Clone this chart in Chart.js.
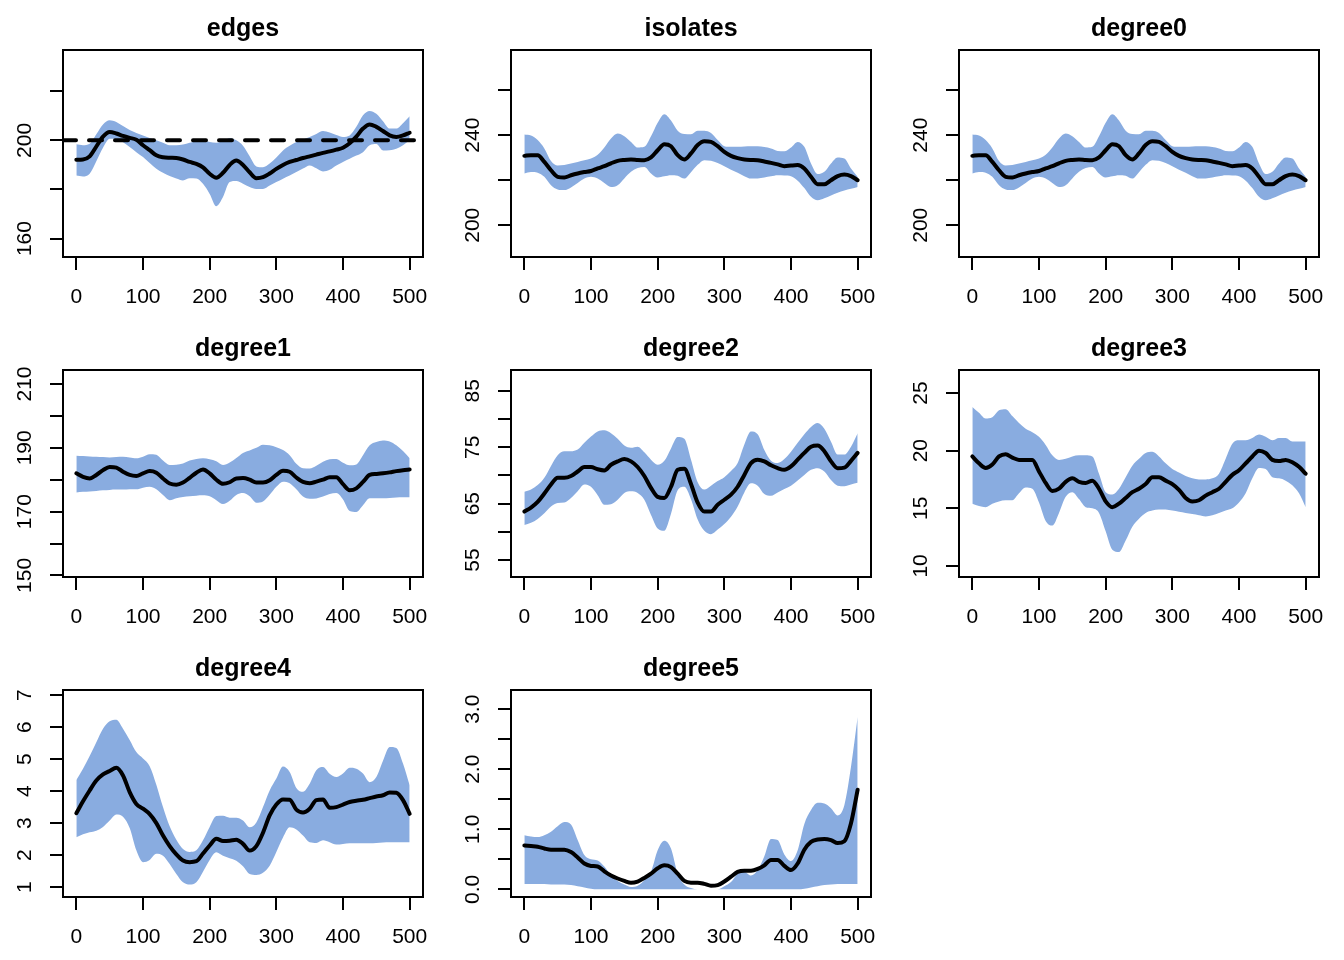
<!DOCTYPE html>
<html>
<head>
<meta charset="utf-8">
<title>Trace plots</title>
<script src="https://cdn.jsdelivr.net/npm/chart.js@4.4.1/dist/chart.umd.min.js"></script>
<style>
  body { margin: 0; background: #fff; }
  #wrap { position: relative; width: 1344px; height: 960px; }
  #wrap canvas { position: absolute; }
</style>
</head>
<body>
<div id="wrap"></div>
<script>
// --- Data ---
const steps = [0,10,20,30,40,50,60,70,80,90,100,110,120,130,140,150,160,170,180,190,200,
  210,220,230,240,250,260,270,280,290,300,310,320,330,340,350,360,370,380,390,400,
  410,420,430,440,450,460,470,480,490,500];
const xTicks = [0, 100, 200, 300, 400, 500];

const edgesMean = [192.1,192.2,193.5,197.5,201.5,203.4,202.8,201.8,201.0,200.3,198.0,196.0,193.9,193.1,192.9,192.8,192.2,191.2,190.4,189.0,186.4,184.8,186.8,190.0,191.8,190.0,187.0,184.6,185.0,186.5,188.4,190.0,191.2,192.0,192.8,193.5,194.2,194.9,195.5,196.2,197.0,198.8,201.5,204.8,206.5,205.5,203.8,202.0,201.4,202.0,203.1];
const edgesUpper = [198.4,198.0,198.6,202.5,206.5,208.2,207.5,205.8,204.2,203.0,202.0,201.0,200.0,199.0,198.0,198.0,198.3,199.0,199.6,200.0,199.3,199.0,199.6,201.0,200.0,197.8,193.5,189.4,189.1,190.6,193.0,195.9,197.8,199.3,200.4,201.4,202.6,203.8,203.2,202.2,201.4,202.0,205.5,210.2,212.0,210.8,207.8,204.8,204.8,207.0,209.8];
const edgesLower = [185.7,185.3,186.4,191.5,197.0,200.7,200.7,199.2,197.3,195.2,193.2,190.8,188.4,186.8,185.5,184.5,183.7,184.6,184.5,182.3,178.2,173.2,176.9,183.0,183.4,182.3,181.0,180.2,180.2,181.6,183.0,184.4,185.7,187.1,188.5,189.8,188.6,187.3,188.0,189.8,191.2,192.5,193.8,195.2,198.0,198.5,195.9,196.0,196.6,198.0,200.0];
const edgesTarget = 200;

const isoMean = [230.8,231.1,231.1,228.1,224.4,221.5,221.2,222.2,223.0,223.6,224.1,225.2,226.2,227.5,228.6,229.0,229.2,229.0,228.9,230.1,233.3,236.0,235.1,231.1,229.2,231.9,235.6,237.3,237.0,235.1,232.6,230.8,229.8,229.2,229.0,228.9,228.3,227.7,227.0,226.2,226.5,226.7,225.2,221.5,218.2,218.2,220.0,221.8,222.5,221.8,220.0];
const isoUpper = [240.3,239.8,237.8,234.1,228.5,226.5,226.7,227.4,228.1,228.8,229.6,231.3,234.5,238.5,240.7,239.5,237.0,234.5,234.8,239.5,245.5,249.3,246.5,242.0,240.5,240.4,241.9,242.0,241.0,237.8,235.1,234.8,234.8,235.0,235.1,235.1,234.7,234.1,233.0,232.8,234.5,237.0,234.8,227.4,222.7,223.7,227.4,230.1,229.6,225.2,221.5];
const isoLower = [223.0,223.6,223.3,221.5,217.8,215.9,215.6,216.8,218.8,220.7,221.5,220.7,218.8,217.0,217.8,220.8,223.7,225.4,225.9,223.0,221.2,221.7,222.2,222.0,220.7,223.5,226.8,228.9,228.6,227.6,226.2,224.6,223.3,221.8,220.7,220.8,221.2,221.7,222.2,222.1,221.8,219.8,216.5,212.6,211.1,212.0,213.2,214.4,215.4,216.2,217.0];

const d1Mean = [182.0,180.9,180.4,181.5,183.0,184.0,183.8,182.5,181.5,181.2,182.0,182.7,182.2,180.4,178.8,178.4,179.1,180.6,182.2,183.2,182.0,180.0,178.7,179.2,180.4,180.5,180.0,179.1,179.1,179.8,181.5,182.8,182.5,180.7,179.3,178.9,179.4,180.0,180.8,180.8,178.6,176.7,177.3,179.3,181.5,181.8,182.0,182.3,182.7,183.0,183.2];
const d1Upper = [187.5,187.4,187.3,187.2,187.1,187.0,187.1,187.2,187.0,186.7,187.2,188.0,187.8,186.0,184.6,184.7,185.1,186.0,186.5,186.7,186.4,185.8,184.6,185.4,186.8,188.4,189.2,190.0,191.0,190.8,190.2,189.3,187.7,185.0,183.6,183.5,184.4,185.6,186.4,186.5,185.3,184.5,184.8,187.7,190.8,191.8,192.3,192.0,190.8,189.0,186.7];
const d1Lower = [176.0,176.2,176.3,176.5,176.7,176.8,176.9,176.9,177.0,177.0,177.5,177.8,177.0,175.2,173.6,174.2,174.6,174.8,175.0,175.1,174.8,173.6,172.4,173.4,175.2,175.8,174.8,172.8,173.2,175.3,177.8,179.4,178.9,177.0,174.7,174.0,174.1,174.7,175.5,175.8,173.8,170.2,169.9,172.0,174.2,174.2,174.2,174.3,174.4,174.5,174.5];

const d2Mean = [63.6,64.3,65.3,66.8,68.4,69.6,69.6,69.9,70.7,71.5,71.5,71.1,70.9,71.9,72.5,72.9,72.5,71.5,69.9,67.8,66.2,66.0,68.0,71.0,71.2,68.5,65.2,63.6,63.6,64.8,65.7,66.6,68.0,70.1,72.2,72.8,72.5,71.8,71.3,71.0,71.6,72.8,74.0,75.1,75.3,74.3,72.5,71.3,71.4,72.6,74.0];
const d2Upper = [67.1,67.5,68.3,69.6,71.7,73.6,74.3,74.3,74.6,75.8,76.9,77.8,78.0,77.5,76.5,75.3,74.9,75.1,74.1,72.8,71.9,72.6,74.8,76.8,76.5,72.8,68.8,67.5,68.2,69.0,69.7,70.8,72.2,75.5,77.8,77.3,74.5,72.6,72.2,72.9,74.2,75.8,77.3,78.6,79.3,78.3,76.0,73.7,73.7,75.1,77.5];
const d2Lower = [61.2,61.6,62.3,63.3,64.5,65.1,65.2,66.0,67.2,68.4,68.0,66.5,64.8,64.9,65.7,66.9,67.2,66.9,65.7,63.0,60.6,60.2,63.2,67.4,68.0,65.8,62.2,60.2,59.6,60.4,61.4,62.7,64.5,67.0,68.6,68.2,66.7,66.4,67.0,67.6,68.2,69.1,70.1,71.0,71.3,70.7,69.2,68.2,68.1,68.4,68.7];

const d3Mean = [19.5,18.9,18.5,18.8,19.5,19.7,19.4,19.2,19.2,19.2,18.2,17.2,16.5,16.7,17.3,17.6,17.3,17.2,17.4,16.7,15.6,15.1,15.4,15.9,16.4,16.7,17.1,17.7,17.7,17.4,17.1,16.6,15.9,15.6,15.7,16.1,16.4,16.7,17.3,17.9,18.3,18.9,19.5,20.0,19.8,19.2,19.1,19.2,19.0,18.6,18.0];
const d3Upper = [23.8,23.3,22.8,22.9,23.5,23.6,23.0,22.4,21.9,21.6,21.2,20.5,19.6,19.2,19.3,19.5,19.6,19.6,19.5,18.0,16.4,16.2,16.7,17.7,18.7,19.3,19.8,19.9,19.5,18.9,18.4,18.1,17.8,17.6,17.5,17.5,17.6,18.0,19.3,20.6,20.9,20.9,21.1,21.4,21.2,20.9,21.1,21.1,20.8,20.8,20.8];
const d3Lower = [15.4,15.2,15.1,15.4,15.6,15.7,15.7,16.3,16.8,16.7,15.5,13.9,13.5,14.6,16.0,16.4,15.8,15.1,15.0,14.6,13.0,11.4,11.2,12.2,13.4,14.1,14.6,14.8,14.9,14.9,14.8,14.7,14.6,14.5,14.4,14.3,14.4,14.6,14.8,15.0,15.5,16.3,17.6,18.5,18.4,17.7,17.6,17.4,17.0,16.3,15.1];

const d4Mean = [3.31,3.68,4.02,4.33,4.52,4.63,4.73,4.49,3.97,3.60,3.45,3.28,3.00,2.61,2.28,2.02,1.83,1.78,1.81,2.05,2.30,2.51,2.44,2.45,2.48,2.35,2.14,2.28,2.70,3.24,3.58,3.74,3.73,3.42,3.33,3.45,3.72,3.74,3.48,3.50,3.58,3.66,3.70,3.73,3.78,3.83,3.87,3.96,3.95,3.72,3.29];
const d4Upper = [4.35,4.70,5.10,5.53,5.95,6.18,6.23,5.95,5.60,5.22,5.02,4.78,4.20,3.50,2.90,2.48,2.19,2.10,2.15,2.46,2.88,3.22,3.23,3.17,3.17,3.08,2.87,3.02,3.50,4.02,4.39,4.77,4.60,4.10,3.98,4.23,4.65,4.75,4.54,4.44,4.55,4.73,4.70,4.55,4.28,4.44,4.95,5.38,5.35,4.86,4.18];
const d4Lower = [2.56,2.65,2.71,2.76,2.88,3.08,3.27,3.20,2.85,2.15,1.78,1.85,2.04,1.98,1.72,1.41,1.15,1.08,1.15,1.48,1.85,2.09,1.98,1.90,1.82,1.65,1.41,1.38,1.45,1.67,2.10,2.55,2.87,2.80,2.61,2.40,2.38,2.46,2.40,2.33,2.35,2.37,2.37,2.37,2.37,2.38,2.39,2.40,2.40,2.40,2.40];

const d5Mean = [0.73,0.72,0.71,0.68,0.66,0.66,0.66,0.62,0.53,0.43,0.39,0.38,0.30,0.23,0.18,0.14,0.11,0.13,0.19,0.26,0.35,0.40,0.37,0.26,0.14,0.11,0.11,0.09,0.06,0.07,0.13,0.21,0.29,0.31,0.31,0.34,0.40,0.49,0.49,0.39,0.32,0.43,0.66,0.79,0.83,0.84,0.82,0.77,0.80,1.10,1.66];
const d5Upper = [0.90,0.88,0.87,0.90,0.96,1.05,1.12,1.08,0.82,0.57,0.50,0.48,0.38,0.23,0.14,0.08,0.04,0.06,0.15,0.29,0.65,0.81,0.68,0.26,0.08,0.02,0.00,0.00,0.00,0.00,0.05,0.12,0.26,0.29,0.23,0.32,0.55,0.84,0.82,0.58,0.47,0.65,1.09,1.32,1.44,1.43,1.35,1.23,1.40,2.04,2.87];
const d5Lower = [0.09,0.09,0.09,0.09,0.08,0.08,0.08,0.07,0.05,0.03,0.01,0,0,0,0,0,0,0,0,0,0,0,0,0,0,0,0,0,0,0,0,0,0,0,0,0,0,0,0,0,0,0,0.01,0.03,0.05,0.07,0.08,0.09,0.09,0.09,0.09];

// y ticks (all marks) and the ones that carry a label
const edgesTicks = [160, 180, 200, 220], edgesShown = [160, 200];
const isoTicks = [200, 220, 240, 260], isoShown = [200, 240];
const d1Ticks = [150, 160, 170, 180, 190, 200, 210], d1Shown = [150, 170, 190, 210];
const d2Ticks = [55, 60, 65, 70, 75, 80, 85], d2Shown = [55, 65, 75, 85];
const d3Ticks = [10, 15, 20, 25], d3Shown = [10, 15, 20, 25];
const d4Ticks = [1, 2, 3, 4, 5, 6, 7], d4Shown = [1, 2, 3, 4, 5, 6, 7];
const d5Ticks = [0, 0.5, 1, 1.5, 2, 2.5, 3], d5Shown = [0, 1, 2, 3];

// --- Panels ---
const panels = [
  {title: 'edges', mean: edgesMean, upper: edgesUpper, lower: edgesLower, target: edgesTarget, yMin: 152.5, yMax: 236.8, ticks: edgesTicks, shown: edgesShown},
  {title: 'isolates', mean: isoMean, upper: isoUpper, lower: isoLower, yMin: 185.9, yMax: 277.8, ticks: isoTicks, shown: isoShown},
  {title: 'degree0', mean: isoMean, upper: isoUpper, lower: isoLower, yMin: 185.9, yMax: 277.8, ticks: isoTicks, shown: isoShown},
  {title: 'degree1', mean: d1Mean, upper: d1Upper, lower: d1Lower, yMin: 149.5, yMax: 214.4, ticks: d1Ticks, shown: d1Shown},
  {title: 'degree2', mean: d2Mean, upper: d2Upper, lower: d2Lower, yMin: 52.0, yMax: 88.7, ticks: d2Ticks, shown: d2Shown},
  {title: 'degree3', mean: d3Mean, upper: d3Upper, lower: d3Lower, yMin: 9.04, yMax: 27.0, ticks: d3Ticks, shown: d3Shown},
  {title: 'degree4', mean: d4Mean, upper: d4Upper, lower: d4Lower, yMin: 0.69, yMax: 7.16, ticks: d4Ticks, shown: d4Shown},
  {title: 'degree5', mean: d5Mean, upper: d5Upper, lower: d5Lower, yMin: -0.128, yMax: 3.32, ticks: d5Ticks, shown: d5Shown, digits: 1}
];

const FONT = '"Liberation Sans", Arial, Helvetica, sans-serif';
const BAND = '#89ace0';
const CELL_W = 448, CELL_H = 320;
const TICK_SIZE = 21;
const tickFont = {family: FONT, size: TICK_SIZE};

const measure = document.createElement('canvas').getContext('2d');
measure.font = TICK_SIZE + 'px ' + FONT;

// box round the plot region, like R's box()
const boxPlugin = {
  id: 'box',
  afterDatasetsDraw(chart) {
    const {ctx, chartArea: a} = chart;
    ctx.save();
    ctx.strokeStyle = '#000';
    ctx.lineWidth = 2;
    ctx.strokeRect(a.left, a.top, a.right - a.left, a.bottom - a.top);
    ctx.restore();
  }
};

const axisGrid = {drawOnChartArea: false, drawTicks: true, tickLength: 13, lineWidth: 2, color: '#000'};
const pts = arr => steps.map((s, k) => ({x: s, y: arr[k]}));

function makePanel(p, i) {
  const canvas = document.createElement('canvas');
  canvas.width = CELL_W;
  canvas.height = CELL_H;
  canvas.style.left = (i % 3) * CELL_W + 'px';
  canvas.style.top = Math.floor(i / 3) * CELL_H + 'px';
  document.getElementById('wrap').appendChild(canvas);

  const fmt = v => p.digits ? v.toFixed(p.digits) : String(v);
  const widest = Math.max(...p.shown.map(v => measure.measureText(fmt(v)).width));

  // lower "order" is drawn on top
  const datasets = [
    {data: pts(p.upper), order: 3, fill: '+1', backgroundColor: BAND, borderColor: 'rgba(0,0,0,0)', borderWidth: 0},
    {data: pts(p.lower), order: 4, fill: false, borderColor: 'rgba(0,0,0,0)', borderWidth: 0},
    {data: pts(p.mean), order: 2, fill: false, borderColor: '#000', borderWidth: 4, borderCapStyle: 'round', borderJoinStyle: 'round'}
  ];
  if (p.target !== undefined) {
    datasets.push({
      data: [{x: -20, y: p.target}, {x: 520, y: p.target}],
      order: 1, fill: false, borderColor: '#000', borderWidth: 4,
      borderDash: [13, 13], borderCapStyle: 'round'
    });
  }

  new Chart(canvas, {
    type: 'line',
    data: {datasets},
    options: {
      responsive: false,
      animation: false,
      devicePixelRatio: 1,
      layout: {padding: {left: 0, right: 25, top: 0, bottom: 0}},
      elements: {
        point: {radius: 0, hoverRadius: 0},
        line: {cubicInterpolationMode: 'monotone'}
      },
      plugins: {
        legend: {display: false},
        tooltip: {enabled: false},
        title: {
          display: true, text: p.title, color: '#000', fullSize: false,
          font: {family: FONT, size: 25, weight: 'bold', lineHeight: 1.2},
          padding: {top: 13.8, bottom: 6.2}
        }
      },
      scales: {
        x: {
          type: 'linear', min: -20, max: 520,
          afterBuildTicks: ax => { ax.ticks = xTicks.map(v => ({value: v})); },
          afterFit: ax => { ax.height = 63; },
          grid: axisGrid,
          border: {display: false},
          ticks: {font: tickFont, color: '#000', padding: 14.5, autoSkip: false, maxRotation: 0, callback: v => String(v)}
        },
        y: {
          type: 'linear', min: p.yMin, max: p.yMax,
          afterBuildTicks: ax => { ax.ticks = p.ticks.map(v => ({value: v})); },
          afterFit: ax => { ax.width = 63; },
          grid: axisGrid,
          border: {display: false},
          ticks: {
            font: tickFont, color: '#000', autoSkip: false,
            minRotation: 90, maxRotation: 90, crossAlign: 'center',
            padding: 24.5 - widest / 2,
            callback: v => p.shown.includes(v) ? fmt(v) : ''
          }
        }
      }
    },
    plugins: [boxPlugin]
  });
}

panels.forEach(makePanel);
</script>
</body>
</html>
